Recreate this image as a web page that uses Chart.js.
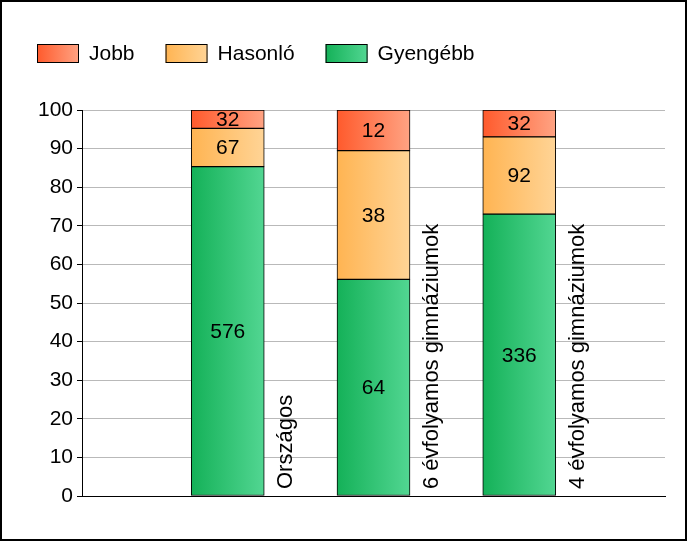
<!DOCTYPE html>
<html>
<head>
<meta charset="utf-8">
<script src="https://cdn.jsdelivr.net/npm/chart.js@4.4.1/dist/chart.umd.min.js"></script>
<style>
  html, body { margin: 0; padding: 0; background: #fff; }
  canvas { display: block; }
</style>
</head>
<body>
<canvas id="chart" width="687" height="541"></canvas>
<script>
// Adatok
const kategoriak = ["Országos", "6 évfolyamos gimnáziumok", "4 évfolyamos gimnáziumok"];
const gyengebb = [576, 64, 336];
const hasonlo = [67, 38, 92];
const jobb = [32, 12, 32];
const yMin = 0, yMax = 100, yStep = 10;

const FAMILY = '"Liberation Sans", Arial, sans-serif';
const FONT = '21px ' + FAMILY;
const BAR_W = 73;

// szazalekok (100%-ra halmozott oszlopok)
function arany(arr) {
  return arr.map((v, i) => ({ x: i + 1, y: v / (gyengebb[i] + hasonlo[i] + jobb[i]) * 100, n: v }));
}

const szinek = {
  Jobb: ["#ff5a2c", "#ffa383"],
  "Hasonló": ["#ffb452", "#ffd496"],
  "Gyengébb": ["#14b158", "#52d692"]
};

function gradiens(ctx, x0, x1, par) {
  const g = ctx.createLinearGradient(x0, 0, x1, 0);
  g.addColorStop(0, par[0]);
  g.addColorStop(1, par[1]);
  return g;
}

function oszlopSzin(nev) {
  return function(context) {
    const chart = context.chart;
    const xs = chart.scales.x;
    if (!chart.chartArea || !xs || context.dataIndex === undefined) return szinek[nev][0];
    const px = xs.getPixelForValue(context.dataIndex + 1);
    return gradiens(chart.ctx, px - BAR_W / 2, px + BAR_W / 2, szinek[nev]);
  };
}

// Jelmagyarazat + keret
const jelmagyarazat = {
  id: "jelmagyarazat",
  afterDraw(chart) {
    const ctx = chart.ctx;
    ctx.save();
    ctx.font = FONT;
    ctx.textBaseline = "middle";
    let x = 37;
    const y = 44, h = 19, w = 42;
    ["Jobb", "Hasonló", "Gyengébb"].forEach(nev => {
      ctx.fillStyle = gradiens(ctx, x, x + w, szinek[nev]);
      ctx.fillRect(x, y, w, h);
      ctx.strokeStyle = "#000";
      ctx.lineWidth = 1;
      ctx.strokeRect(x + 0.5, y + 0.5, w - 1, h - 1);
      ctx.fillStyle = "#000";
      ctx.fillText(nev, x + w + 10, y + h / 2 + 1);
      x += w + 10 + ctx.measureText(nev).width + 31;
    });
    ctx.strokeStyle = "#000";
    ctx.lineWidth = 2;
    ctx.strokeRect(1, 1, chart.width - 2, chart.height - 2);
    ctx.restore();
  }
};

// Feliratok az oszlopokon es melle
const feliratok = {
  id: "feliratok",
  afterDatasetsDraw(chart) {
    const ctx = chart.ctx;
    ctx.save();
    ctx.font = FONT;
    ctx.fillStyle = "#000";
    ctx.textAlign = "center";
    ctx.textBaseline = "middle";
    chart.data.datasets.forEach((ds, di) => {
      chart.getDatasetMeta(di).data.forEach((el, i) => {
        ctx.fillText(String(ds.data[i].n), el.x, (el.y + el.base) / 2 + 1);
      });
    });
    const xs = chart.scales.x;
    ctx.font = '22px ' + FAMILY;
    ctx.textAlign = "left";
    ctx.textBaseline = "alphabetic";
    kategoriak.forEach((k, i) => {
      const px = xs.getPixelForValue(i + 1) + BAR_W / 2 + 28;
      ctx.save();
      ctx.translate(px, chart.chartArea.bottom - 7);
      ctx.rotate(-Math.PI / 2);
      ctx.fillText(k, 0, 0);
      ctx.restore();
    });
    ctx.restore();
  }
};

new Chart(document.getElementById("chart"), {
  type: "bar",
  data: {
    datasets: [
      { label: "Gyengébb", data: arany(gyengebb), backgroundColor: oszlopSzin("Gyengébb") },
      { label: "Hasonló", data: arany(hasonlo), backgroundColor: oszlopSzin("Hasonló") },
      { label: "Jobb", data: arany(jobb), backgroundColor: oszlopSzin("Jobb") }
    ]
  },
  options: {
    responsive: false,
    animation: false,
    datasets: {
      bar: { barThickness: BAR_W, borderColor: "#000", borderWidth: 1, borderSkipped: false }
    },
    layout: { padding: { top: 110, bottom: 45, right: 22, left: 0 } },
    plugins: { legend: { display: false }, tooltip: { enabled: false } },
    scales: {
      x: {
        type: "linear",
        min: 0,
        max: 4,
        stacked: true,
        offset: false,
        grid: { display: false },
        ticks: { display: false },
        border: { display: true, color: "#000", width: 1 },
        afterFit(s) { s.height = 0; }
      },
      y: {
        stacked: true,
        min: yMin,
        max: yMax,
        ticks: { stepSize: yStep, color: "#000", font: { family: FAMILY, size: 21 }, padding: 4 },
        grid: { color: "#b9b9b9", tickColor: "#000", tickLength: 5 },
        border: { color: "#000", width: 1 },
        afterFit(s) { s.width = 82; }
      }
    }
  },
  plugins: [feliratok, jelmagyarazat]
});
</script>
</body>
</html>
